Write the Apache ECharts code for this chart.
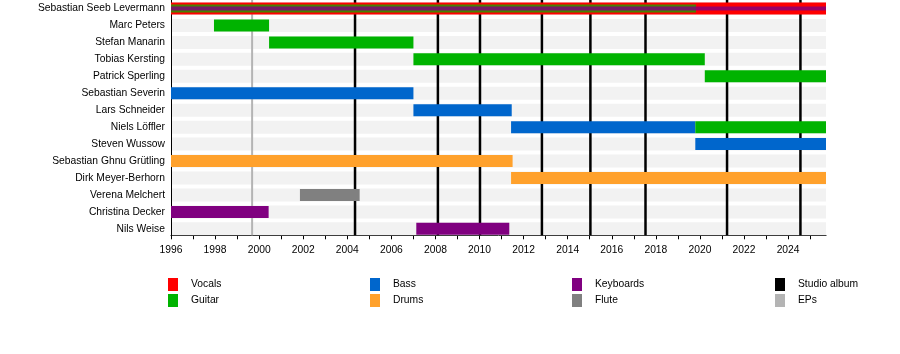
<!DOCTYPE html>
<html>
<head>
<meta charset="utf-8">
<script src="https://cdn.jsdelivr.net/npm/echarts@6/dist/echarts.min.js"></script>
<style>
html,body{margin:0;padding:0;background:#fff;}
#chart{width:900px;height:354px;}
</style>
</head>
<body>
<div id="chart"></div>
<script>
// ---- data ----
const members = ['Sebastian Seeb Levermann','Marc Peters','Stefan Manarin','Tobias Kersting','Patrick Sperling','Sebastian Severin','Lars Schneider','Niels Löffler','Steven Wussow','Sebastian Ghnu Grütling','Dirk Meyer-Berhorn','Verena Melchert','Christina Decker','Nils Weise'];
const startYear = 1996;
const endYear = 2025.72;
// [memberIndex, from, to, layer] (layer 0 = main bar, 1/2 = secondary instrument stripe)
const vocals = [[0, 1996, 2025.72, 0]];
const guitar = [[0, 1996, 2019.82, 1],[1, 1997.95, 2000.45, 0],[2, 2000.45, 2007.0, 0],[3, 2007.0, 2020.22, 0],[4, 2020.22, 2025.72, 0],[7, 2019.79, 2025.72, 0]];
const bass = [[5, 1996, 2007.0, 0],[6, 2007.0, 2011.46, 0],[7, 2011.43, 2019.79, 0],[8, 2019.79, 2025.72, 0]];
const drums = [[9, 1996, 2011.5, 0],[10, 2011.43, 2025.72, 0]];
const keyboards = [[0, 1996, 2025.72, 2],[12, 1996, 2000.43, 0],[13, 2007.13, 2011.35, 0]];
const flute = [[11, 2001.85, 2004.56, 0]];
const studioAlbums = [2004.35, 2008.11, 2010.02, 2012.83, 2015.03, 2017.53, 2021.23, 2024.56];
const eps = [1999.68];

// ---- styles ----
const FONT = "'Liberation Sans', Arial, Helvetica, sans-serif";
const FS = 10.3;
const colors = {Vocals:'#ff0000', Guitar:'#00b300', Bass:'#0066cc', Drums:'#ffa12c', Keyboards:'#800080', Flute:'#808080', 'Studio album':'#000000', EPs:'#b4b4b4'};
const layerH = [12, 8, 4];
const layerOpacity = [1, 0.72, 0.8];

function barRender(params, api) {
  const row = api.value(0), s = api.value(1), e = api.value(2), layer = api.value(3);
  const p0 = api.coord([s, row]);
  const p1 = api.coord([e, row]);
  const h = layerH[layer];
  return {
    type: 'rect',
    shape: {x: p0[0], y: p0[1] - h / 2, width: p1[0] - p0[0], height: h},
    style: {fill: api.visual('color'), opacity: layerOpacity[layer]}
  };
}
function bgRender(params, api) {
  const cs = params.coordSys;
  const p = api.coord([startYear, api.value(0)]);
  const h = 13;
  return {type: 'rect', shape: {x: cs.x + 1, y: p[1] - h / 2, width: cs.width - 1, height: h}, style: {fill: '#f2f2f2'}};
}
function lineRender(w) {
  return function (params, api) {
    const cs = params.coordSys;
    const x = api.coord([api.value(0), 0])[0];
    return {type: 'line', shape: {x1: x, y1: cs.y, x2: x, y2: cs.y + cs.height - 2}, style: {stroke: api.visual('color'), lineWidth: w}};
  };
}
function barSeries(name, data) {
  return {name: name, type: 'custom', renderItem: barRender, data: data, encode: {x: [1, 2], y: 0}, itemStyle: {color: colors[name]}, z: 5, silent: true};
}
function legendCol(names, left) {
  return {data: names, left: left, top: 278, orient: 'vertical', itemWidth: 10, itemHeight: 13, itemGap: 3, icon: 'rect', padding: 0, selectedMode: false,
    textStyle: {fontSize: FS, color: '#000', fontFamily: FONT, padding: [2, 0, 0, 8]}};
}

const chart = echarts.init(document.getElementById('chart'), null, {renderer: 'canvas'});
chart.setOption({
  animation: false,
  backgroundColor: '#fff',
  grid: {left: 171, right: 74, top: -1.7, height: 239, containLabel: false},
  xAxis: {
    type: 'value', min: startYear, max: endYear, interval: 1, offset: -2,
    axisLine: {show: true, lineStyle: {color: '#000', width: 1}},
    axisTick: {show: true, length: 4, lineStyle: {color: '#000'}},
    splitLine: {show: false},
    axisLabel: {margin: 10, fontSize: FS, color: '#000', fontFamily: FONT, showMaxLabel: false,
      formatter: v => (Math.round(v) % 2 === 0 ? String(Math.round(v)) : '')}
  },
  yAxis: {
    type: 'category', data: members, inverse: true,
    axisLine: {show: true, lineStyle: {color: '#000', width: 1}},
    axisTick: {show: false},
    axisLabel: {margin: 6, fontSize: FS, color: '#000', fontFamily: FONT}
  },
  legend: [
    legendCol(['Vocals', 'Guitar'], 168),
    legendCol(['Bass', 'Drums'], 370),
    legendCol(['Keyboards', 'Flute'], 572),
    legendCol(['Studio album', 'EPs'], 775)
  ],
  series: [
    {name: 'bg', type: 'custom', renderItem: bgRender, data: members.map((m, i) => [i]), encode: {y: 0}, z: 1, silent: true},
    {name: 'EPs', type: 'custom', renderItem: lineRender(2), data: eps.map(v => [v]), encode: {x: 0}, itemStyle: {color: colors.EPs}, z: 2, silent: true},
    {name: 'Studio album', type: 'custom', renderItem: lineRender(2.5), data: studioAlbums.map(v => [v]), encode: {x: 0}, itemStyle: {color: colors['Studio album']}, z: 3, silent: true},
    barSeries('Vocals', vocals),
    barSeries('Bass', bass),
    barSeries('Drums', drums),
    barSeries('Flute', flute),
    barSeries('Guitar', guitar),
    barSeries('Keyboards', keyboards)
  ]
});
</script>
</body>
</html>
